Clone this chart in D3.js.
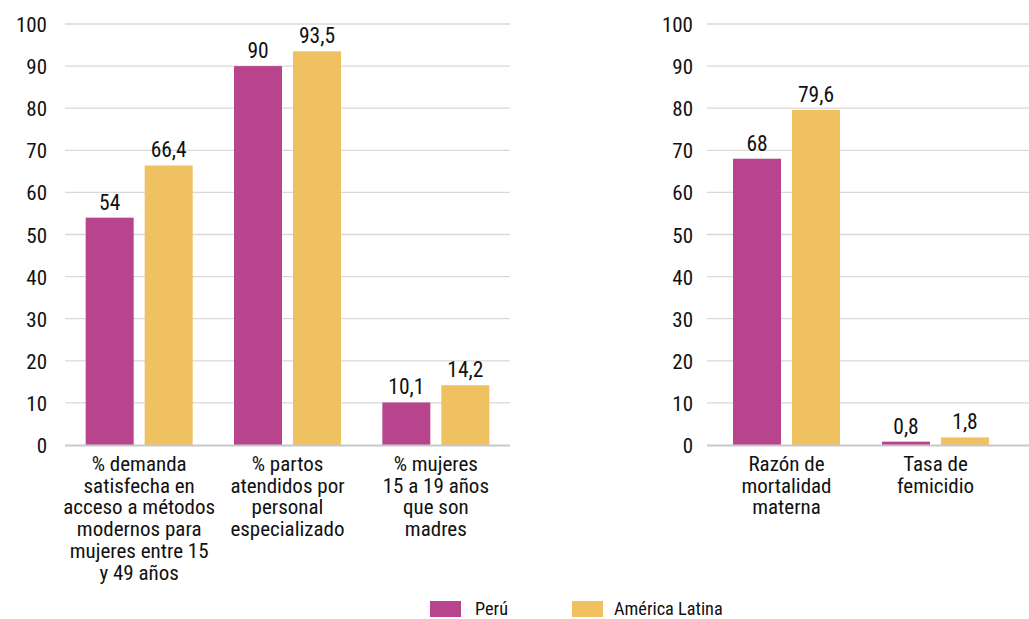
<!DOCTYPE html>
<html><head><meta charset="utf-8">
<script src="https://cdn.jsdelivr.net/npm/d3@7"></script>
<style>
body{margin:0;background:#fff;}
text{font-family:"Roboto Condensed","Liberation Sans Narrow",Roboto,sans-serif;fill:#111;}
</style></head>
<body><svg id="c" width="1029" height="619"></svg>
<script>
const seriesNames = ["Perú", "América Latina"];
const colors = ["#B8448E", "#F0C160"];
const leftCategories = [
  ["% demanda", "satisfecha en", "acceso a métodos", "modernos para", "mujeres entre 15", "y 49 años"],
  ["% partos", "atendidos por", "personal", "especializado"],
  ["% mujeres", "15 a 19 años", "que son", "madres"]
];
const leftPeru = [54, 90, 10.1];
const leftAL = [66.4, 93.5, 14.2];
const rightCategories = [
  ["Razón de", "mortalidad", "materna"],
  ["Tasa de", "femicidio"]
];
const rightPeru = [68, 0.8];
const rightAL = [79.6, 1.8];
const yTicks = [0,10,20,30,40,50,60,70,80,90,100];

const svg = d3.select("#c");
const y = d3.scaleLinear().domain([0,100]).range([445,24]);
const fmt = v => String(v).replace(".", ",");

function panel(cats, peru, al, bandRange, gridRange, labelX){
  const idx = cats.map((d,i)=>i);
  const x0 = d3.scaleBand().domain(idx).range(bandRange).paddingInner(0).paddingOuter(0);
  const bw = 48, gap = 11;
  const g = svg.append("g");
  g.selectAll("line.grid").data(yTicks.filter(t=>t>0)).join("line")
    .attr("x1", gridRange[0]).attr("x2", gridRange[1])
    .attr("y1", d=>y(d)).attr("y2", d=>y(d))
    .attr("stroke", "#d9d9d9").attr("stroke-width", 1.3);
  const ax = d3.axisLeft(y).tickValues(yTicks).tickSize(0).tickPadding(0).tickFormat(d3.format("d"));
  const axg = g.append("g").attr("transform", `translate(${labelX},0)`).call(ax);
  axg.select(".domain").remove();
  axg.selectAll("text").style("font-size","21px")
    .style("font-family",'"Roboto Condensed","Liberation Sans Narrow",Roboto,sans-serif')
    .attr("dy","0.36em").attr("fill","#111");
  const data = [];
  idx.forEach(i=>{ data.push({i, s:0, v:peru[i]}); data.push({i, s:1, v:al[i]}); });
  const cx = i => x0(i) + x0.bandwidth()/2;
  const bx = d => cx(d.i) - bw - gap/2 + d.s*(bw+gap);
  g.selectAll("rect.bar").data(data).join("rect")
    .attr("x", bx).attr("width", bw)
    .attr("y", d=>y(d.v)).attr("height", d=>y(0)-y(d.v))
    .attr("fill", d=>colors[d.s]);
  g.selectAll("text.val").data(data).join("text")
    .attr("x", d=>bx(d)+bw/2).attr("y", d=>y(d.v)-8)
    .attr("text-anchor","middle").style("font-size","21.5px").text(d=>fmt(d.v));
  g.append("line").attr("x1", gridRange[0]).attr("x2", gridRange[1])
    .attr("y1", y(0)+0.5).attr("y2", y(0)+0.5).attr("stroke","#c8c8c8").attr("stroke-width",2);
  idx.forEach(i=>{
    const t = g.append("text").attr("x", cx(i)).attr("y", 471).attr("text-anchor","middle")
      .style("font-size","21px");
    cats[i].forEach((ln,k)=>t.append("tspan").attr("x", cx(i)).attr("y", 471 + k*21.7).text(ln));
  });
}
panel(leftCategories, leftPeru, leftAL, [65,510], [65,510], 47);
panel(rightCategories, rightPeru, rightAL, [712,1010], [707,1029], 693);

const leg = svg.append("g");
const legX = [430, 572], legTX = [475, 614];
seriesNames.forEach((s,i)=>{
  leg.append("rect").attr("x", legX[i]).attr("y", 601).attr("width", 31).attr("height", 16).attr("fill", colors[i]);
  leg.append("text").attr("x", legTX[i]).attr("y", 615).style("font-size","18.3px").text(s);
});
</script></body></html>
